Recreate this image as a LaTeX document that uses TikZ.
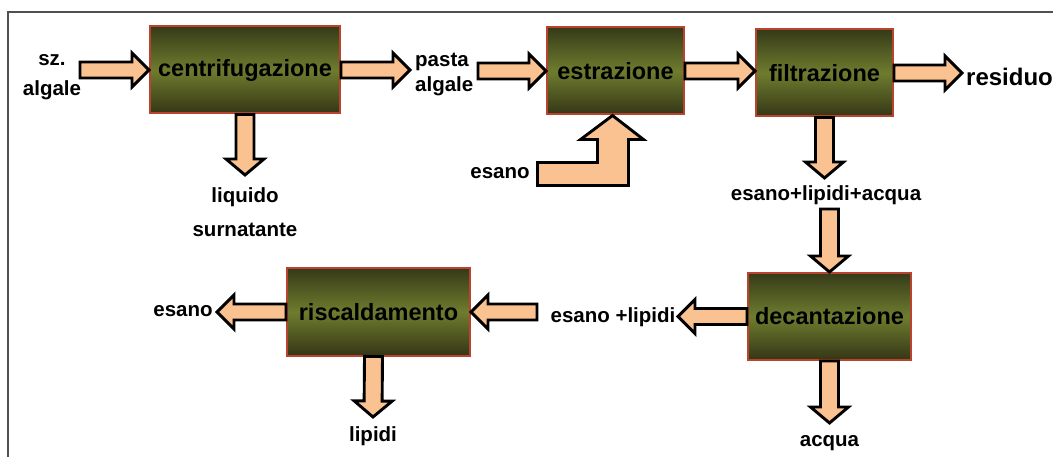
\documentclass[tikz,border=0pt]{standalone}
\usepackage{fontspec}
\setmainfont{Liberation Sans}
\usetikzlibrary{calc}

\definecolor{boxtop}{HTML}{363A18}
\definecolor{boxmid}{HTML}{6E7C2E}
\definecolor{boxbot}{HTML}{353616}
\definecolor{boxline}{HTML}{B8432E}
\definecolor{peach}{HTML}{FAC191}
\definecolor{framegray}{HTML}{505050}

\tikzset{
  fase/.style={draw=boxline, line width=2pt, top color=boxtop, bottom color=boxbot, middle color=boxmid,
    minimum height=87pt, inner sep=0pt, font=\fontsize{23.5}{26}\selectfont\bfseries},
  lbl/.style={inner sep=0pt, font=\fontsize{20.5}{24}\selectfont\bfseries},
  flowshaft/.code={\def\flowsw{#1}},
  flowhead/.code={\def\flowhw{#1}},
  flowtip/.code={\def\flowhl{#1}},
  flowline/.style={draw=black, line width=2.9pt, fill=peach, line join=miter},
  flow/.style={flowline, flowshaft=8pt, flowhead=17pt, flowtip=17pt,
    to path={($(\tikztostart)!\flowsw!90:(\tikztotarget)$)
      -- ($(\tikztotarget)!\flowhl!(\tikztostart)!\flowsw!-90:(\tikztostart)$)
      -- ($(\tikztotarget)!\flowhl!(\tikztostart)!\flowhw!-90:(\tikztostart)$)
      -- (\tikztotarget)
      -- ($(\tikztotarget)!\flowhl!(\tikztostart)!\flowhw!90:(\tikztostart)$)
      -- ($(\tikztotarget)!\flowhl!(\tikztostart)!\flowsw!90:(\tikztostart)$)
      -- ($(\tikztostart)!\flowsw!-90:(\tikztotarget)$) -- cycle}},
  flowv/.style={flow, flowshaft=9pt, flowhead=19pt, flowtip=16pt}
}

\begin{document}
\begin{tikzpicture}[x=1pt, y=-1pt]
	\useasboundingbox (0,0) rectangle (1053,457);
	% cornice
	\draw[color=framegray, line width=2pt] (8,460) -- (8,12) -- (1056,12);

	% fasi
	\node[fase, minimum width=190pt] (centr) at (245,70) {centrifugazione};
	\node[fase, minimum width=137pt] (estr) at (615.5,71) {estrazione};
	\node[fase, minimum width=137pt] (filt) at (824.5,73) {filtrazione};
	\node[fase, minimum width=163pt] (decant) at (829.5,316.5) {decantazione};
	\node[fase, minimum width=183pt] (risc) at (378.5,312) {riscaldamento};

	% etichette
	\node[lbl] (lsz) at (52,60) {sz.};
	\node[lbl] (lalg) at (52,90) {algale};
	\node[lbl, anchor=west] (lpasta) at (415,62) {pasta};
	\node[lbl, anchor=west] (lpalg) at (415,86) {algale};
	\node[lbl, anchor=west, font=\fontsize{24}{26}\selectfont\bfseries] (lres) at (966,77) {residuo};
	\node[lbl] (lliq) at (245,197) {liquido};
	\node[lbl] (lsurn) at (245,230) {surnatante};
	\node[lbl] (lesa) at (500,173) {esano};
	\node[lbl] (lmix) at (826,195) {esano+lipidi+acqua};
	\node[lbl] (lmixb) at (613,317) {esano +lipidi};
	\node[lbl] (lacq) at (829.5,443) {acqua};
	\node[lbl] (lesb) at (183,311) {esano};
	\node[lbl] (llip) at (373,436) {lipidi};

	% estremi liberi
	\coordinate (szend) at (80,70);
	\coordinate (pastatip) at (410,70);
	\coordinate (pastaend) at (478,71);
	\coordinate (ef) at (filt.west |- estr.east);
	\coordinate (restip) at (962,73);
	\coordinate (liqtip) at (245,175);
	\coordinate (mixtip) at (824.5,178);
	\coordinate (mixend) at (829.5,209);
	\coordinate (mixbtip) at (678,316.5);
	\coordinate (acqtip) at (829.5,423);
	\coordinate (mixbend) at (537,312);
	\coordinate (esbtip) at (217,312);
	\coordinate (rs) at ([xshift=-5pt]risc.south);
	\coordinate (liptip) at (373,417);

	% frecce
	\draw[flow] (szend) to (centr.west);
	\draw[flow] (centr.east) to (pastatip);
	\draw[flow] (pastaend) to (estr.west);
	\draw[flow] (estr.east) to (ef);
	\draw[flow] (filt.east) to (restip);
	\draw[flowv] (centr.south) to (liqtip);
	\draw[flowv] (filt.south) to (mixtip);
	\draw[flowv] (mixend) to (decant.north);
	\draw[flow] (decant.west) to (mixbtip);
	\draw[flowv] (decant.south) to (acqtip);
	\draw[flow] (mixbend) to (risc.east);
	\draw[flow] (risc.west) to (esbtip);
	\draw[flowv] (rs) to (liptip);

	% esano in estrazione
	\draw[flowline] ([xshift=-3pt]estr.south) -- ++(31,24) -- ++(-15,0) -- ++(0,46) -- ++(-91,0)
		-- ++(0,-23) -- ++(60,0) -- ++(0,-23) -- ++(-17,0) -- cycle;
\end{tikzpicture}
\end{document}
